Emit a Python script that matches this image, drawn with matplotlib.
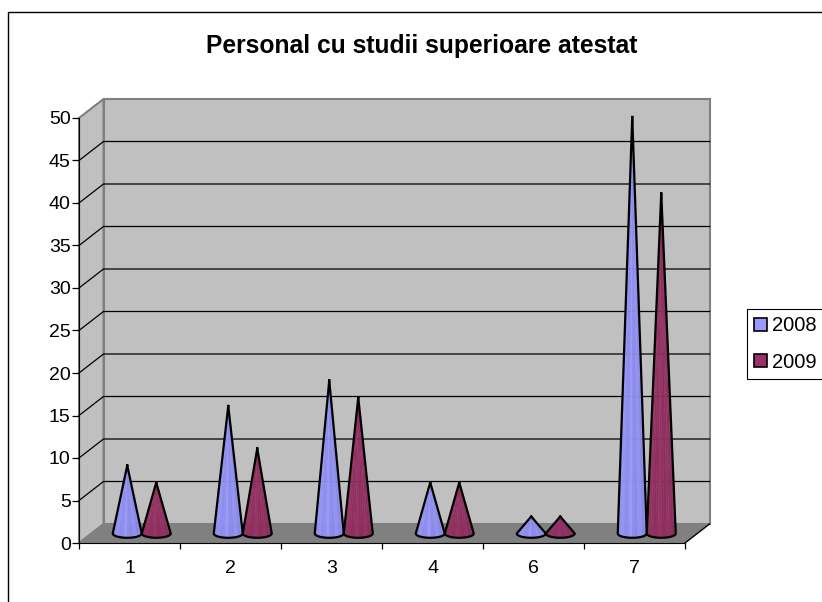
import matplotlib
matplotlib.use('Agg')
import matplotlib.pyplot as plt
from matplotlib.lines import Line2D
from matplotlib.patches import Patch
import numpy as np

plt.rcParams['font.family'] = ['Liberation Sans', 'DejaVu Sans']

categories = ['1', '2', '3', '4', '6', '7']
values_2008 = [8, 15, 18, 6, 2, 49]
values_2009 = [6, 10, 16, 6, 2, 40]
y_ticks = [0, 5, 10, 15, 20, 25, 30, 35, 40, 45, 50]

W, H = 822, 602
fig = plt.figure(figsize=(W / 100, H / 100), dpi=100)
ax = fig.add_axes([79 / W, (H - 543) / H, (685 - 79) / W, 425 / H])
ax.set_xlim(0, len(categories))
ax.set_ylim(0, 50)

# depth of the fake 3d box, in data units
dx = 24.5 / 101
dy = 19 / 8.5
wall = '#c0c0c0'
edge = '#808080'
n = len(categories)

ax.fill([dx, n + dx, n + dx, dx], [dy, dy, 50 + dy, 50 + dy], fc=wall, ec=edge, lw=1.5, clip_on=False, zorder=1)
ax.fill([0, dx, dx, 0], [0, dy, 50 + dy, 50], fc=wall, ec=edge, lw=1.5, clip_on=False, zorder=1)
ax.fill([0, n, n + dx, dx], [0, 0, dy, dy], fc=edge, ec='none', clip_on=False, zorder=2)
ax.plot([n, n + dx], [0, dy], color='black', lw=1, clip_on=False, zorder=2)

for t in y_ticks[1:-1]:
    ax.plot([0, dx, n + dx], [t, t + dy, t + dy], color='black', lw=0.9, clip_on=False, zorder=2)


def cone(xc, top, color):
    hw = 14.5 / 101
    hh = 4.3 / 8.5
    y0 = dy / 2
    th = np.linspace(np.pi, 2 * np.pi, 17)
    bx = xc + hw * np.cos(th)
    by = y0 + hh * np.sin(th)
    base = np.array(matplotlib.colors.to_rgb(color))
    for i in range(16):
        k = 1.0 - 0.1 * abs(np.sin(i * 0.9)) * (0.6 + i / 24)
        ax.fill([xc, bx[i], bx[i + 1]], [top + y0, by[i], by[i + 1]], fc=base * k, ec=base * k, lw=0.3, zorder=3)
    ax.plot(np.r_[xc, bx, xc], np.r_[top + y0, by, top + y0], color='black', lw=1.6,
            solid_joinstyle='round', zorder=4, clip_on=False)


for i in range(n):
    c = i + 0.5 + dx / 2
    cone(c - 14.5 / 101, values_2008[i], '#9999ff')
    cone(c + 14.5 / 101, values_2009[i], '#993366')

ax.patch.set_visible(False)
ax.spines['top'].set_visible(False)
ax.spines['right'].set_visible(False)
ax.spines['left'].set_zorder(5)
ax.spines['bottom'].set_zorder(5)
ax.set_yticks(y_ticks)
ax.set_xticks(np.arange(n + 1))
ax.set_xticklabels([])
ax.set_xticks(np.arange(n) + 0.5, categories, minor=True)
ax.tick_params(axis='x', which='major', length=4, width=0.9, color='black')
ax.tick_params(axis='x', which='minor', length=0, pad=12, labelsize=14)
ax.tick_params(axis='y', length=5, width=0.9, pad=1, labelsize=14)

fig.text(421.5 / W, 1 - 52.5 / H, 'Personal cu studii superioare atestat', ha='center', va='baseline',
         fontsize=17.7, fontweight='bold')

# outer chart frame, only top and left are inside the picture
fig.add_artist(Line2D([8 / W, 8 / W, 1], [0, 1 - 12 / H, 1 - 12 / H], color='black', lw=1))

handles = [Patch(fc='#9999ff', ec='black', lw=1.2, label='2008'),
           Patch(fc='#993366', ec='black', lw=1.2, label='2009')]
leg = fig.legend(handles=handles, loc='upper left', bbox_to_anchor=(747 / W, 1 - 309 / H), borderaxespad=0,
                 fontsize=14.5, frameon=True, fancybox=False, edgecolor='black', framealpha=1,
                 handlelength=0.6, handleheight=0.6, handletextpad=0.25, borderpad=0.37, labelspacing=0.85)
leg.get_frame().set_linewidth(0.8)

fig.savefig('out.png', dpi=100)
